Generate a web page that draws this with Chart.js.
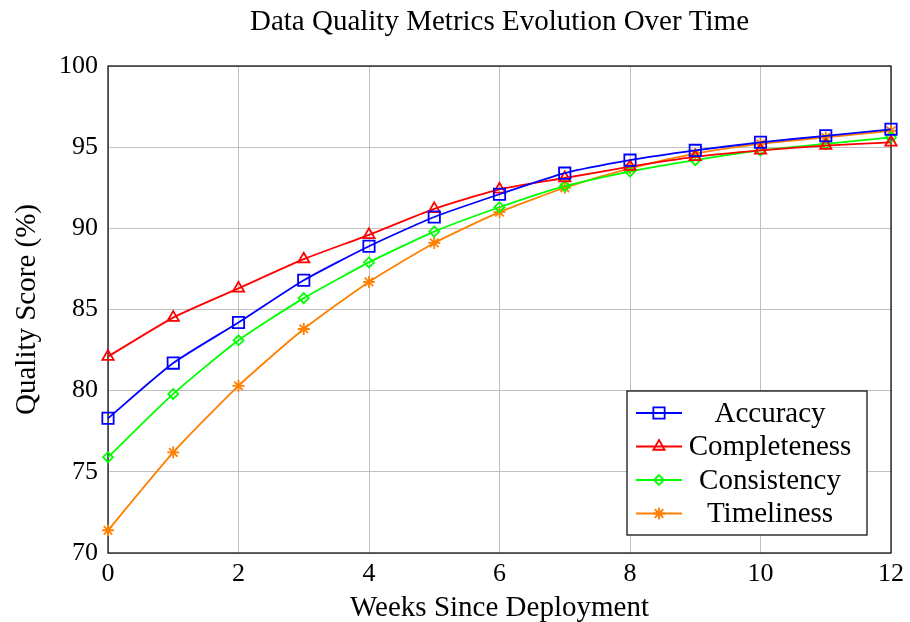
<!DOCTYPE html>
<html>
<head>
<meta charset="utf-8">
<script src="https://cdn.jsdelivr.net/npm/chart.js@4.4.0/dist/chart.umd.min.js"></script>
<style>
  html, body { margin: 0; padding: 0; background: #fff; }
  #wrap { width: 910px; height: 622px; }
</style>
</head>
<body>
<div id="wrap"><canvas id="qualityChart" width="910" height="622"></canvas></div>
<script>
// weeks on the x axis
const weeks = [0, 1, 2, 3, 4, 5, 6, 7, 8, 9, 10, 11, 12];

// quality scores (%) per metric
const accuracy     = [78.3, 81.7, 84.2, 86.8, 88.9, 90.7, 92.1, 93.4, 94.2, 94.8, 95.3, 95.7, 96.1];
const completeness = [82.1, 84.5, 86.3, 88.1, 89.6, 91.2, 92.4, 93.1, 93.8, 94.4, 94.8, 95.1, 95.3];
const consistency  = [75.9, 79.8, 83.1, 85.7, 87.9, 89.8, 91.3, 92.6, 93.5, 94.2, 94.8, 95.2, 95.6];
const timeliness   = [71.4, 76.2, 80.3, 83.8, 86.7, 89.1, 91.0, 92.5, 93.7, 94.6, 95.2, 95.6, 96.0];

const seriesNames = ["Accuracy", "Completeness", "Consistency", "Timeliness"];
const xTicks = [0, 2, 4, 6, 8, 10, 12];
const yTicks = [70, 75, 80, 85, 90, 95, 100];
const chartTitle = "Data Quality Metrics Evolution Over Time";

const FONT = "'Liberation Serif', 'DejaVu Serif', serif";

function toPoints(values) {
    return values.map((v, i) => ({ x: weeks[i], y: v }));
}

function makeDataset(label, values, color, style, radius) {
    return {
        label: label,
        data: toPoints(values),
        borderColor: color,
        backgroundColor: "rgba(0,0,0,0)",
        pointBorderColor: color,
        pointBackgroundColor: "rgba(0,0,0,0)",
        pointStyle: style,
        pointRadius: radius,
        pointBorderWidth: 1.8,
        borderWidth: 1.8,
        tension: 0.2,
        fill: false,
        clip: false
    };
}

// frame around the plot area, like pgfplots' box axis
const frame = {
    id: "frame",
    beforeDatasetsDraw(chart) {
        const a = chart.chartArea;
        const ctx = chart.ctx;
        ctx.save();
        ctx.strokeStyle = "#000";
        ctx.lineWidth = 1.2;
        ctx.strokeRect(a.left, a.top, a.right - a.left, a.bottom - a.top);
        ctx.restore();
    }
};

// title centred over the plot area (not the whole canvas)
const plotTitle = {
    id: "plotTitle",
    afterDraw(chart) {
        const a = chart.chartArea;
        const ctx = chart.ctx;
        ctx.save();
        ctx.fillStyle = "#000";
        ctx.font = "29px " + FONT;
        ctx.textAlign = "center";
        ctx.textBaseline = "middle";
        ctx.fillText(chartTitle, (a.left + a.right) / 2, 22);
        ctx.restore();
    }
};

// legend box inside the plot, bottom right
const boxLegend = {
    id: "boxLegend",
    afterDraw(chart) {
        const a = chart.chartArea;
        const ctx = chart.ctx;
        const w = 240, rowH = 33.5, h = 4 * rowH + 10;
        const x0 = a.right - 24 - w;
        const y0 = a.bottom - 18 - h;
        ctx.save();
        ctx.fillStyle = "#fff";
        ctx.fillRect(x0, y0, w, h);
        ctx.strokeStyle = "#000";
        ctx.lineWidth = 1.2;
        ctx.strokeRect(x0, y0, w, h);
        chart.data.datasets.forEach((ds, i) => {
            const cy = y0 + 22 + i * rowH;
            ctx.strokeStyle = ds.borderColor;
            ctx.lineWidth = ds.borderWidth;
            ctx.beginPath();
            ctx.moveTo(x0 + 9, cy);
            ctx.lineTo(x0 + 55, cy);
            ctx.stroke();
            ctx.fillStyle = "rgba(0,0,0,0)";
            ctx.lineWidth = ds.pointBorderWidth;
            Chart.helpers.drawPoint(ctx, {
                pointStyle: ds.pointStyle,
                radius: ds.pointRadius,
                borderWidth: ds.pointBorderWidth,
                rotation: 0
            }, x0 + 32, cy);
            ctx.fillStyle = "#000";
            ctx.font = "29px " + FONT;
            ctx.textAlign = "center";
            ctx.textBaseline = "middle";
            ctx.fillText(ds.label, x0 + 143, cy + 1);
        });
        ctx.restore();
    }
};

const ctx = document.getElementById("qualityChart").getContext("2d");
new Chart(ctx, {
    type: "line",
    data: {
        datasets: [
            makeDataset(seriesNames[0], accuracy, "#0000ff", "rect", 8),
            makeDataset(seriesNames[1], completeness, "#ff0000", "triangle", 6.5),
            makeDataset(seriesNames[2], consistency, "#00ff00", "rectRot", 5),
            makeDataset(seriesNames[3], timeliness, "#ff8000", "star", 6)
        ]
    },
    options: {
        responsive: false,
        animation: false,
        layout: { padding: { left: 0, right: 12, top: 66, bottom: 0 } },
        plugins: {
            legend: { display: false },
            tooltip: { enabled: false },
            title: { display: false }
        },
        scales: {
            x: {
                type: "linear",
                min: 0,
                max: 12,
                afterBuildTicks: axis => { axis.ticks = xTicks.map(v => ({ value: v })); },
                afterFit: axis => { axis.height = 69; },
                grid: { color: "#c0c0c0", lineWidth: 1, drawTicks: false },
                border: { display: false },
                ticks: { color: "#000", padding: 6, font: { family: FONT, size: 26 } },
                title: {
                    display: true,
                    text: "Weeks Since Deployment",
                    color: "#000",
                    padding: { top: 0, bottom: -4 },
                    font: { family: FONT, size: 29 }
                }
            },
            y: {
                min: 70,
                max: 100,
                afterBuildTicks: axis => { axis.ticks = yTicks.map(v => ({ value: v })); },
                afterFit: axis => { axis.width = 108; },
                grid: { color: "#c0c0c0", lineWidth: 1, drawTicks: false },
                border: { display: false },
                ticks: { color: "#000", padding: 10, font: { family: FONT, size: 26 } },
                title: {
                    display: true,
                    text: "Quality Score (%)",
                    color: "#000",
                    padding: { top: 10, bottom: 0 },
                    font: { family: FONT, size: 29 }
                }
            }
        }
    },
    plugins: [frame, plotTitle, boxLegend]
});
</script>
</body>
</html>
